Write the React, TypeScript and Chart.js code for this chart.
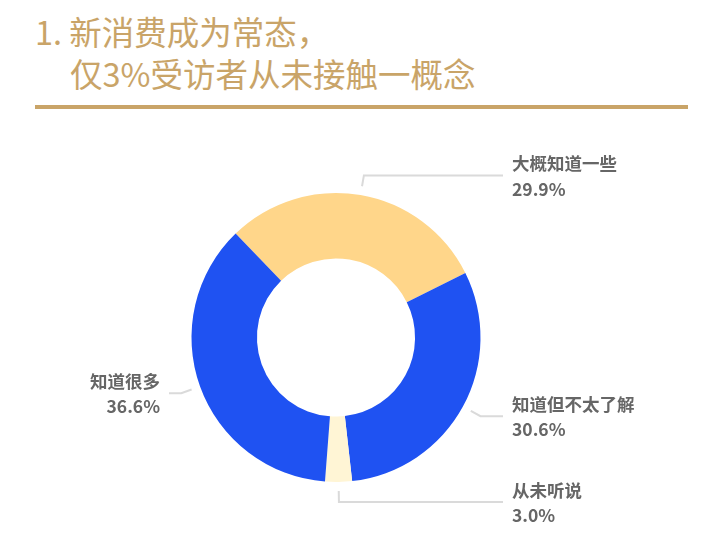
import React, { useEffect, useRef } from "react";
import { Chart, registerables } from "chart.js";

Chart.register(...registerables);

const categories = ["大概知道一些", "知道但不太了解", "从未听说", "知道很多"];
const values = [29.9, 30.6, 3.0, 36.6];
const valueLabels = ["29.9%", "30.6%", "3.0%", "36.6%"];
const colors = ["#FFD68A", "#1F52F2", "#FFF5D5", "#1F52F2"];
const titleLines = ["1. 新消费成为常态，", "仅3%受访者从未接触一概念"];

const GOLD = "#C9A468";
const LABEL_FONT = 'bold 17.5px "Noto Sans CJK SC", "Noto Sans", sans-serif';

const leaderPlugin = {
  id: "leaderLabels",
  afterDatasetsDraw(chart: any) {
    const ctx = chart.ctx;
    const meta = chart.getDatasetMeta(0);
    ctx.save();
    meta.data.forEach((arc: any, i: number) => {
      const { x, y, startAngle, endAngle, outerRadius } = arc.getProps(
        ["x", "y", "startAngle", "endAngle", "outerRadius"],
        true
      );
      const mid = (startAngle + endAngle) / 2;
      const cos = Math.cos(mid);
      const sin = Math.sin(mid);
      const p1 = { x: x + (outerRadius + 9) * cos, y: y + (outerRadius + 9) * sin };
      const p2 = { x: x + (outerRadius + 20) * cos, y: y + (outerRadius + 20) * sin };
      const right = cos >= 0;
      const endX = right ? x + outerRadius + 22.5 : x - outerRadius - 22.5;
      ctx.strokeStyle = "#DADADA";
      ctx.lineWidth = 2;
      ctx.beginPath();
      ctx.moveTo(p1.x, p1.y);
      ctx.lineTo(p2.x, p2.y);
      ctx.lineTo(endX, p2.y);
      ctx.stroke();
      ctx.fillStyle = "#666666";
      ctx.font = LABEL_FONT;
      ctx.textBaseline = "middle";
      ctx.textAlign = right ? "left" : "right";
      const tx = right ? endX + 9 : endX - 9;
      ctx.fillText(categories[i], tx, p2.y - 12);
      ctx.fillText(valueLabels[i], tx, p2.y + 13.5);
    });
    ctx.restore();
  },
};

export default function App() {
  const canvasRef = useRef<HTMLCanvasElement | null>(null);

  useEffect(() => {
    document.body.style.margin = "0";
    const canvas = canvasRef.current;
    if (!canvas) return;
    const chart = new Chart(canvas, {
      type: "doughnut",
      data: {
        labels: categories,
        datasets: [
          {
            data: values,
            backgroundColor: colors,
            borderWidth: 0,
          },
        ],
      },
      options: {
        animation: false,
        responsive: true,
        maintainAspectRatio: false,
        rotation: -44,
        cutout: "54.7%",
        layout: {
          padding: { left: 191.5, right: 232.5, top: 193, bottom: 53 },
        },
        plugins: {
          legend: { display: false },
          tooltip: { enabled: false },
        },
      },
      plugins: [leaderPlugin],
    });
    return () => chart.destroy();
  }, []);

  const titleStyle: React.CSSProperties = {
    position: "absolute",
    fontFamily: '"Noto Sans CJK SC", "Noto Sans", sans-serif',
    fontSize: 32.5,
    lineHeight: "42px",
    color: GOLD,
    fontWeight: 400,
    whiteSpace: "nowrap",
  };

  return (
    <div style={{ position: "absolute", left: 0, top: 0, width: 713, height: 535, background: "#fff" }}>
      <div style={{ ...titleStyle, left: 35, top: 10 }}>{titleLines[0]}</div>
      <div style={{ ...titleStyle, left: 70, top: 52 }}>{titleLines[1]}</div>
      <div style={{ position: "absolute", left: 35, top: 105, width: 653, height: 4, background: GOLD }} />
      <div style={{ position: "absolute", left: 0, top: 0, width: 713, height: 535 }}>
        <canvas ref={canvasRef} />
      </div>
    </div>
  );
}
